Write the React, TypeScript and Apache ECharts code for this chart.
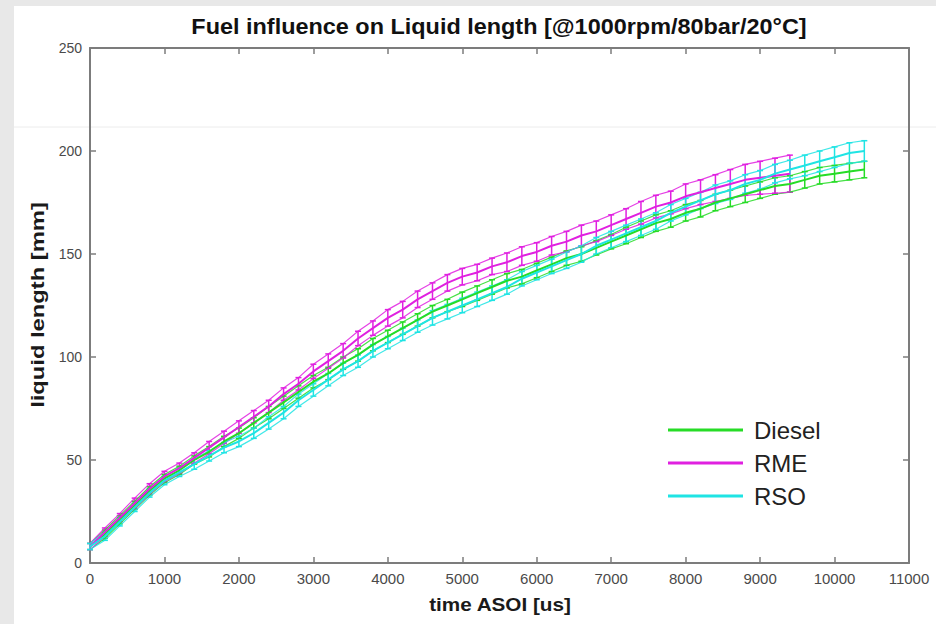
import React, { useEffect, useRef } from "react";
import * as echarts from "echarts";

const TITLE = "Fuel influence on Liquid length [@1000rpm/80bar/20°C]";
const X_NAME = "time ASOI [us]";
const Y_NAME = "liquid length [mm]";
const SERIES_NAMES = ["Diesel", "RME", "RSO"];

const TIME_US = [
  0, 200, 400, 600, 800, 1000, 1200, 1400, 1600, 1800,
  2000, 2200, 2400, 2600, 2800, 3000, 3200, 3400, 3600, 3800,
  4000, 4200, 4400, 4600, 4800, 5000, 5200, 5400, 5600, 5800,
  6000, 6200, 6400, 6600, 6800, 7000, 7200, 7400, 7600, 7800,
  8000, 8200, 8400, 8600, 8800, 9000, 9200, 9400, 9600, 9800,
  10000, 10200, 10400,
];

const DIESEL_MEAN = [
  8, 14, 21, 28, 35, 41, 45, 50, 54, 59,
  63, 68, 73, 78, 83, 88, 92, 97, 101, 106,
  110, 114, 118, 122, 125, 128, 131, 134, 137, 139,
  142, 145, 148, 150, 153, 156, 159, 162, 165, 167,
  170, 172, 175, 177, 179, 181, 183, 184, 186, 188,
  189, 190, 191,
];
const DIESEL_ERR = [
  1.5, 2, 2, 2, 2, 2, 2, 2, 2.5, 2.5,
  2.5, 2.5, 3, 3, 3, 3, 3, 3, 3, 3,
  3, 3, 3, 3, 3, 3.5, 3.5, 3.5, 3.5, 3.5,
  3.5, 3.5, 3.5, 3.5, 3.5, 3.5, 4, 4, 4, 4,
  4, 4, 4, 4, 4, 4, 4, 4, 4, 4,
  4, 4, 4,
];

const RME_MEAN = [
  8, 15, 22, 29, 36, 42, 46, 51, 56, 61,
  66, 71, 76, 82, 87, 93, 98, 103, 109, 114,
  119, 123, 128, 132, 136, 139, 141, 144, 146, 149,
  151, 154, 156, 159, 161, 164, 167, 170, 173, 175,
  178, 180, 182, 184, 186, 187, 188, 189,
];
const RME_ERR = [
  1.5, 2, 2, 2.5, 2.5, 2.5, 2.5, 2.5, 3, 3,
  3, 3, 3, 3, 3, 3.5, 3.5, 3.5, 3.5, 3.5,
  4, 4, 4, 4, 4, 4, 4, 4, 4.5, 4.5,
  4.5, 4.5, 5, 5, 5, 5, 5, 5.5, 5.5, 5.5,
  6, 6, 6.5, 7, 7.5, 8, 8.5, 9,
];

const RSO_MEAN = [
  8, 13, 20, 27, 34, 40, 44, 48, 52, 56,
  59, 63, 68, 73, 79, 84, 89, 94, 98, 103,
  107, 111, 115, 119, 122, 125, 128, 131, 134, 138,
  141, 144, 147, 150, 154, 157, 160, 163, 166, 170,
  173, 176, 179, 181, 184, 186, 189, 191, 193, 195,
  197, 199, 200,
];
const RSO_ERR = [
  1.5, 2, 2, 2, 2, 2, 2, 2.5, 2.5, 2.5,
  2.5, 2.5, 3, 3, 3, 3, 3, 3, 3, 3,
  3, 3, 3, 3.5, 3.5, 3.5, 3.5, 3.5, 3.5, 3.5,
  3.5, 3.5, 4, 4, 4, 4, 4, 4, 4, 4,
  4, 4, 4.5, 4.5, 4.5, 4.5, 4.5, 4.5, 5, 5,
  5, 5, 5,
];

const COLORS = ["#26dc26", "#e020e0", "#1fe4e4"];
const FONT = '"Liberation Sans", Arial, sans-serif';

function buildSeries(name: string, color: string, mean: number[], err: number[]) {
  const n = Math.min(mean.length, err.length);
  const pts: number[][] = [];
  for (let i = 0; i < n; i++) pts.push([TIME_US[i], mean[i], err[i]]);
  const line = {
    name,
    type: "line",
    data: pts.map((p) => [p[0], p[1]]),
    showSymbol: false,
    symbol: "none",
    color,
    lineStyle: { color, width: 2 },
    z: 3,
  };
  const bars = {
    name: name + " err",
    type: "custom",
    data: pts,
    encode: { x: 0, y: 1 },
    z: 2,
    renderItem: (params: any, api: any) => {
      const x = api.value(0);
      const m = api.value(1);
      const e = api.value(2);
      const hi = api.coord([x, m + e]);
      const lo = api.coord([x, m - e]);
      const hw = 3;
      const st = { stroke: color, lineWidth: 1.5 };
      return {
        type: "group",
        children: [
          { type: "line", shape: { x1: hi[0], y1: hi[1], x2: lo[0], y2: lo[1] }, style: st },
          { type: "line", shape: { x1: hi[0] - hw, y1: hi[1], x2: hi[0] + hw, y2: hi[1] }, style: st },
          { type: "line", shape: { x1: lo[0] - hw, y1: lo[1], x2: lo[0] + hw, y2: lo[1] }, style: st },
        ],
      };
    },
  };
  const upper = {
    name: name + " up",
    type: "line",
    data: pts.map((p) => [p[0], p[1] + p[2]]),
    symbol: "none",
    lineStyle: { color, width: 1.2, opacity: 0.85 },
    z: 2,
  };
  const lower = {
    name: name + " lo",
    type: "line",
    data: pts.map((p) => [p[0], p[1] - p[2]]),
    symbol: "none",
    lineStyle: { color, width: 1.2, opacity: 0.85 },
    z: 2,
  };
  return [bars, upper, lower, line];
}

export default function App() {
  const ref = useRef<HTMLDivElement>(null);
  useEffect(() => {
    if (!ref.current) return;
    const chart = echarts.init(ref.current, null, { renderer: "svg" });
    const axisLine = { show: true, onZero: false, lineStyle: { color: "#7c7c7c", width: 2 } };
    const axisTick = { show: true, inside: true, length: 6, lineStyle: { color: "#7c7c7c", width: 1.5 } };
    const plain = (v: number) => String(v);
    const series = [
      ...buildSeries(SERIES_NAMES[0], COLORS[0], DIESEL_MEAN, DIESEL_ERR),
      ...buildSeries(SERIES_NAMES[1], COLORS[1], RME_MEAN, RME_ERR),
      ...buildSeries(SERIES_NAMES[2], COLORS[2], RSO_MEAN, RSO_ERR),
    ];
    chart.setOption({
      animation: false,
      backgroundColor: "#e8e8e8",
      textStyle: { fontFamily: FONT },
      graphic: [
        { type: "rect", z: -100, silent: true, shape: { x: 14, y: 6, width: 922, height: 618 }, style: { fill: "#ffffff" } },
        { type: "line", z: -50, silent: true, shape: { x1: 14, y1: 127, x2: 936, y2: 127 }, style: { stroke: "#ececec", lineWidth: 1 } },
        {
          type: "text",
          x: 499,
          y: 26,
          scaleX: 1.065,
          silent: true,
          style: {
            text: TITLE,
            fontFamily: FONT,
            fontSize: 22,
            fontWeight: "bold",
            fill: "#111111",
            align: "center",
            verticalAlign: "middle",
          },
        },
        {
          type: "text",
          x: 500,
          y: 605,
          scaleX: 1.15,
          silent: true,
          style: {
            text: X_NAME,
            fontFamily: FONT,
            fontSize: 18,
            fontWeight: "bold",
            fill: "#1a1a1a",
            align: "center",
            verticalAlign: "middle",
          },
        },
        {
          type: "text",
          x: 38,
          y: 305,
          rotation: Math.PI / 2,
          scaleX: 1.25,
          silent: true,
          style: {
            text: Y_NAME,
            fontFamily: FONT,
            fontSize: 19,
            fontWeight: "bold",
            fill: "#1a1a1a",
            align: "center",
            verticalAlign: "middle",
          },
        },
      ],
      grid: { left: 90, right: 27, top: 48, bottom: 61, containLabel: false },
      legend: {
        data: SERIES_NAMES,
        orient: "vertical",
        left: 663,
        top: 413,
        itemWidth: 75,
        itemHeight: 3,
        itemGap: 9,
        icon: "rect",
        textStyle: { fontSize: 24, color: "#222222", fontFamily: FONT, padding: [0, 0, 0, 6] },
      },
      xAxis: [
        {
          type: "value",
          position: "bottom",
          min: 0,
          max: 11000,
          interval: 1000,
          axisLine,
          axisTick,
          splitLine: { show: false },
          axisLabel: { color: "#4a4a4a", fontSize: 15, margin: 8, fontFamily: FONT, formatter: plain },
        },
        {
          type: "value",
          position: "top",
          min: 0,
          max: 11000,
          interval: 1000,
          axisLine,
          axisTick,
          splitLine: { show: false },
          axisLabel: { show: false },
        },
      ],
      yAxis: [
        {
          type: "value",
          position: "left",
          min: 0,
          max: 250,
          interval: 50,
          axisLine,
          axisTick,
          splitLine: { show: false },
          axisLabel: { color: "#4a4a4a", fontSize: 14, margin: 8, fontFamily: FONT, formatter: plain },
        },
        {
          type: "value",
          position: "right",
          min: 0,
          max: 250,
          interval: 50,
          axisLine,
          axisTick,
          splitLine: { show: false },
          axisLabel: { show: false },
        },
      ],
      series,
    });
    return () => chart.dispose();
  }, []);
  return (
    <div
      ref={ref}
      style={{ position: "fixed", left: 0, top: 0, width: 936, height: 624 }}
    />
  );
}
